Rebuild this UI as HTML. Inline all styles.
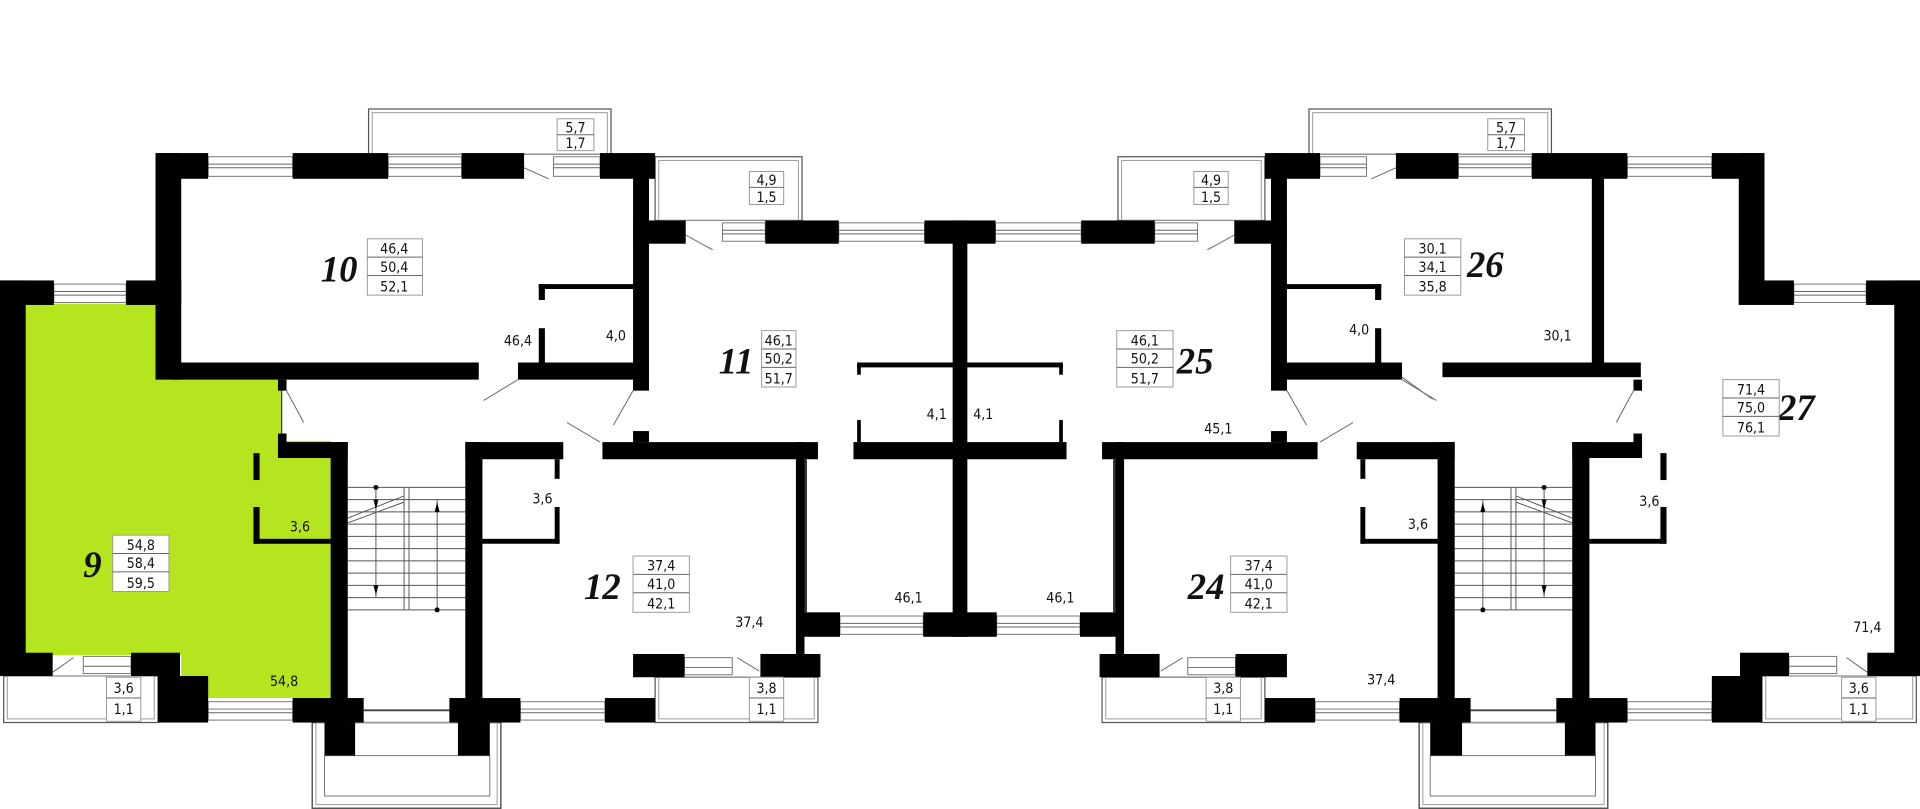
<!DOCTYPE html>
<html><head><meta charset="utf-8"><style>
html,body{margin:0;padding:0;background:#fff;}
svg{display:block;}
text{font-family:"Liberation Sans Narrow","DejaVu Sans Condensed","Liberation Sans",sans-serif;font-size:11.5px;fill:#111;}
.big{font-family:"Liberation Serif",serif;font-style:italic;font-weight:bold;font-size:30px;}
.win{fill:#fff;stroke:#777;stroke-width:0.8;}
.ln{stroke:#666;stroke-width:0.8;fill:none;}
.bx{fill:#fff;stroke:#999;stroke-width:0.8;}
</style></head><body>
<svg width="1920" height="809" viewBox="0 0 1568 660.6" preserveAspectRatio="none" xmlns="http://www.w3.org/2000/svg">
<rect width="1568" height="661" fill="#fff"/>
<polygon points="20,248 140,248 140,310 230,310 230,360 270,360 270,570 148,570 148,535 20,535" fill="#b5e51f"/>
<defs>
<g id="S">
<!-- balconies -->
<rect x="301" y="89" width="198" height="37" fill="none" stroke="#555" stroke-width="1"/>
<rect x="304" y="92" width="192" height="34" fill="none" stroke="#999" stroke-width="0.8"/>
<rect x="535" y="128" width="120" height="52" fill="none" stroke="#555" stroke-width="1"/>
<rect x="538" y="131" width="114" height="49" fill="none" stroke="#999" stroke-width="0.8"/>
<rect x="3" y="552" width="126" height="38" fill="none" stroke="#555" stroke-width="1"/>
<rect x="6" y="552" width="120" height="35" fill="none" stroke="#999" stroke-width="0.8"/>
<rect x="535" y="553" width="133" height="37" fill="none" stroke="#555" stroke-width="1"/>
<rect x="538" y="553" width="127" height="34" fill="none" stroke="#999" stroke-width="0.8"/>
<rect x="255" y="590" width="154" height="70" fill="none" stroke="#555" stroke-width="1.2"/>
<rect x="258" y="590" width="148" height="67" fill="none" stroke="#999" stroke-width="0.8"/>
<rect x="265" y="617" width="135" height="33" fill="none" stroke="#777" stroke-width="0.8"/>
<!-- windows -->
<rect class="win" x="170" y="128" width="69" height="16"/><line class="ln" x1="170" y1="134" x2="239" y2="134"/><line class="ln" x1="170" y1="137" x2="239" y2="137"/>
<rect class="win" x="317" y="128" width="60" height="16"/><line class="ln" x1="317" y1="134" x2="377" y2="134"/><line class="ln" x1="317" y1="137" x2="377" y2="137"/>
<rect class="win" x="452" y="128" width="38" height="16"/><line class="ln" x1="452" y1="134" x2="490" y2="134"/><line class="ln" x1="452" y1="137" x2="490" y2="137"/>
<rect class="win" x="44" y="232" width="59" height="15"/><line class="ln" x1="44" y1="238" x2="103" y2="238"/><line class="ln" x1="44" y1="241" x2="103" y2="241"/>
<rect class="win" x="590" y="182" width="35" height="15"/><line class="ln" x1="590" y1="188" x2="625" y2="188"/><line class="ln" x1="590" y1="191" x2="625" y2="191"/>
<rect class="win" x="685" y="182" width="70" height="15"/><line class="ln" x1="685" y1="188" x2="755" y2="188"/><line class="ln" x1="685" y1="191" x2="755" y2="191"/>
<rect class="win" x="686" y="503" width="68" height="15"/><line class="ln" x1="686" y1="509" x2="754" y2="509"/><line class="ln" x1="686" y1="512" x2="754" y2="512"/>
<rect class="win" x="68" y="536" width="39" height="14"/><line class="ln" x1="68" y1="544" x2="107" y2="544"/>
<rect class="win" x="170" y="573" width="69" height="15"/><line class="ln" x1="170" y1="579" x2="239" y2="579"/><line class="ln" x1="170" y1="582" x2="239" y2="582"/>
<rect class="win" x="425" y="573" width="69" height="15"/><line class="ln" x1="425" y1="579" x2="494" y2="579"/><line class="ln" x1="425" y1="582" x2="494" y2="582"/>
<rect class="win" x="559" y="537" width="39" height="14"/><line class="ln" x1="559" y1="545" x2="598" y2="545"/>
<line x1="297" y1="580" x2="367" y2="580" stroke="#444" stroke-width="1.5"/>
<!-- walls -->
<g fill="#000">
<rect x="127" y="125" width="43" height="21"/><rect x="239" y="125" width="78" height="21"/>
<rect x="377" y="125" width="51" height="21"/><rect x="490" y="125" width="45" height="21"/>
<rect x="127" y="125" width="21" height="123"/>
<rect x="0" y="229" width="44" height="20"/><rect x="103" y="229" width="45" height="20"/>
<rect x="0" y="229" width="21" height="323"/>
<rect x="517" y="125" width="13" height="194"/>
<rect x="517" y="180" width="43" height="19"/><rect x="625" y="180" width="60" height="19"/><rect x="755" y="180" width="29" height="19"/>
<rect x="778" y="180" width="6" height="340"/>
<rect x="440" y="232" width="77" height="4"/><rect x="440" y="232" width="5" height="13"/><rect x="440" y="268" width="5" height="28"/>
<rect x="423" y="296" width="107" height="14"/>
<rect x="227" y="310" width="7" height="9"/><rect x="227" y="354" width="7" height="8"/>
<rect x="227" y="361" width="57" height="13"/>
<rect x="207" y="370" width="5" height="22"/><rect x="207" y="414" width="5" height="30"/><rect x="207" y="440" width="63" height="4"/>
<rect x="270" y="361" width="14" height="229"/>
<rect x="380" y="361" width="14" height="229"/><rect x="380" y="361" width="80" height="14"/>
<rect x="453" y="375" width="4" height="16"/><rect x="453" y="414" width="4" height="30"/><rect x="394" y="440" width="63" height="4"/>
<rect x="492" y="361" width="176" height="14"/><rect x="517" y="352" width="13" height="9"/>
<rect x="650" y="361" width="7" height="173"/><rect x="657" y="500" width="29" height="20"/>
<rect x="697" y="361" width="87" height="14"/><rect x="700" y="343" width="3" height="18"/>
<rect x="700" y="296" width="84" height="4"/><rect x="700" y="296" width="3" height="10"/>
<rect x="754" y="500" width="30" height="20"/>
<rect x="0" y="533" width="43" height="19"/>
<rect x="107" y="533" width="40" height="19"/><rect x="129" y="552" width="41" height="38"/>
<rect x="239" y="570" width="58" height="20"/><rect x="367" y="570" width="58" height="20"/>
<rect x="494" y="570" width="41" height="20"/><rect x="517" y="534" width="42" height="19"/>
<rect x="621" y="534" width="49" height="19"/>
<rect x="265" y="590" width="25" height="27"/><rect x="374" y="590" width="26" height="27"/>
</g>
<rect x="657" y="375" width="2" height="125" fill="#333"/>
<!-- stairs -->
<g stroke="#555" stroke-width="0.8">
<line x1="284" y1="398" x2="380" y2="398"/><line x1="284" y1="408" x2="380" y2="408"/>
<line x1="284" y1="418" x2="380" y2="418"/><line x1="284" y1="428" x2="380" y2="428"/>
<line x1="284" y1="438" x2="380" y2="438"/><line x1="284" y1="448" x2="380" y2="448"/>
<line x1="284" y1="458" x2="380" y2="458"/><line x1="284" y1="468" x2="380" y2="468"/>
<line x1="284" y1="478" x2="380" y2="478"/><line x1="284" y1="488" x2="380" y2="488"/>
<line x1="284" y1="498" x2="380" y2="498"/>
<line x1="330" y1="398" x2="330" y2="498"/><line x1="334" y1="398" x2="334" y2="498"/>
<line x1="284" y1="423" x2="330" y2="405"/><line x1="284" y1="427" x2="330" y2="410"/>
<line x1="307" y1="398" x2="307" y2="488"/><line x1="357" y1="408" x2="357" y2="498"/>
</g>
<circle cx="307" cy="398" r="2" fill="#000"/><circle cx="357" cy="498" r="2" fill="#000"/>
<polygon points="305,408 309,408 307,416" fill="#000"/><polygon points="305,478 309,478 307,486" fill="#000"/>
<polygon points="355,418 359,418 357,410" fill="#000"/>
<!-- door swings -->
<g class="ln">
<line x1="428" y1="137" x2="448" y2="146"/><line x1="560" y1="192" x2="582" y2="204"/>
<line x1="423" y1="310" x2="395" y2="327"/><line x1="517" y1="319" x2="501" y2="347"/>
<line x1="463" y1="345" x2="490" y2="361"/><line x1="234" y1="319" x2="248" y2="345"/>
<line x1="43" y1="549" x2="60" y2="537"/><line x1="602" y1="537" x2="620" y2="548"/>
</g>
</g>
</defs>
<use href="#S"/>
<use href="#S" transform="translate(1568,0) scale(-1,1)"/>
<!-- left only -->
<rect x="127" y="248" width="21" height="62" fill="#000"/>
<rect x="140" y="296" width="251" height="14" fill="#000"/>
<line x1="230" y1="319" x2="230" y2="354" stroke="#333" stroke-width="1"/>
<!-- right only -->
<rect x="1178" y="296" width="162" height="12" fill="#000"/>
<rect x="1300" y="145" width="10" height="155" fill="#000"/>
<line class="ln" x1="1145" y1="308" x2="1170" y2="326"/>

<!-- labels -->
<g>
<rect class="bx" x="455" y="97" width="30" height="26"/><line class="ln" x1="455" y1="110" x2="485" y2="110"/>
<text x="470" y="108" text-anchor="middle">5,7</text><text x="470" y="121" text-anchor="middle">1,7</text>
<rect class="bx" x="1215" y="97" width="30" height="26"/><line class="ln" x1="1215" y1="110" x2="1245" y2="110"/>
<text x="1230" y="108" text-anchor="middle">5,7</text><text x="1230" y="121" text-anchor="middle">1,7</text>
<rect class="bx" x="612" y="140" width="28" height="27"/><line class="ln" x1="612" y1="153" x2="640" y2="153"/>
<text x="626" y="151" text-anchor="middle">4,9</text><text x="626" y="165" text-anchor="middle">1,5</text>
<rect class="bx" x="975" y="140" width="28" height="27"/><line class="ln" x1="975" y1="153" x2="1003" y2="153"/>
<text x="989" y="151" text-anchor="middle">4,9</text><text x="989" y="165" text-anchor="middle">1,5</text>
<rect class="bx" x="87" y="553" width="28" height="36"/><line class="ln" x1="87" y1="570" x2="115" y2="570"/>
<text x="101" y="566" text-anchor="middle">3,6</text><text x="101" y="583" text-anchor="middle">1,1</text>
<rect class="bx" x="612" y="553" width="28" height="36"/><line class="ln" x1="612" y1="570" x2="640" y2="570"/>
<text x="626" y="566" text-anchor="middle">3,8</text><text x="626" y="583" text-anchor="middle">1,1</text>
<rect class="bx" x="985" y="553" width="28" height="36"/><line class="ln" x1="985" y1="570" x2="1013" y2="570"/>
<text x="999" y="566" text-anchor="middle">3,8</text><text x="999" y="583" text-anchor="middle">1,1</text>
<rect class="bx" x="1504" y="553" width="28" height="36"/><line class="ln" x1="1504" y1="570" x2="1532" y2="570"/>
<text x="1518" y="566" text-anchor="middle">3,6</text><text x="1518" y="583" text-anchor="middle">1,1</text>

<text class="big" x="262" y="230">10</text>
<rect class="bx" x="300" y="195" width="45" height="46"/><line class="ln" x1="300" y1="210" x2="345" y2="210"/><line class="ln" x1="300" y1="225" x2="345" y2="225"/>
<text x="322" y="207" text-anchor="middle">46,4</text><text x="322" y="222" text-anchor="middle">50,4</text><text x="322" y="238" text-anchor="middle">52,1</text>

<text class="big" x="587" y="305">11</text>
<rect class="bx" x="622" y="270" width="28" height="46"/><line class="ln" x1="622" y1="285" x2="650" y2="285"/><line class="ln" x1="622" y1="300" x2="650" y2="300"/>
<text x="636" y="282" text-anchor="middle">46,1</text><text x="636" y="297" text-anchor="middle">50,2</text><text x="636" y="313" text-anchor="middle">51,7</text>

<text class="big" x="961" y="305">25</text>
<rect class="bx" x="912" y="270" width="46" height="46"/><line class="ln" x1="912" y1="285" x2="958" y2="285"/><line class="ln" x1="912" y1="300" x2="958" y2="300"/>
<text x="935" y="282" text-anchor="middle">46,1</text><text x="935" y="297" text-anchor="middle">50,2</text><text x="935" y="313" text-anchor="middle">51,7</text>

<text class="big" x="1198" y="226">26</text>
<rect class="bx" x="1147" y="195" width="46" height="46"/><line class="ln" x1="1147" y1="210" x2="1193" y2="210"/><line class="ln" x1="1147" y1="225" x2="1193" y2="225"/>
<text x="1170" y="207" text-anchor="middle">30,1</text><text x="1170" y="222" text-anchor="middle">34,1</text><text x="1170" y="238" text-anchor="middle">35,8</text>

<text class="big" x="1452" y="343">27</text>
<rect class="bx" x="1407" y="310" width="46" height="46"/><line class="ln" x1="1407" y1="325" x2="1453" y2="325"/><line class="ln" x1="1407" y1="340" x2="1453" y2="340"/>
<text x="1430" y="322" text-anchor="middle">71,4</text><text x="1430" y="337" text-anchor="middle">75,0</text><text x="1430" y="353" text-anchor="middle">76,1</text>

<text class="big" x="970" y="489">24</text>
<rect class="bx" x="1005" y="454" width="46" height="46"/><line class="ln" x1="1005" y1="469" x2="1051" y2="469"/><line class="ln" x1="1005" y1="484" x2="1051" y2="484"/>
<text x="1028" y="466" text-anchor="middle">37,4</text><text x="1028" y="481" text-anchor="middle">41,0</text><text x="1028" y="497" text-anchor="middle">42,1</text>

<text class="big" x="477" y="489">12</text>
<rect class="bx" x="517" y="454" width="46" height="46"/><line class="ln" x1="517" y1="469" x2="563" y2="469"/><line class="ln" x1="517" y1="484" x2="563" y2="484"/>
<text x="540" y="466" text-anchor="middle">37,4</text><text x="540" y="481" text-anchor="middle">41,0</text><text x="540" y="497" text-anchor="middle">42,1</text>

<text class="big" x="68" y="471">9</text>
<rect class="bx" x="92" y="437" width="46" height="46"/><line class="ln" x1="92" y1="452" x2="138" y2="452"/><line class="ln" x1="92" y1="467" x2="138" y2="467"/>
<text x="115" y="449" text-anchor="middle">54,8</text><text x="115" y="464" text-anchor="middle">58,4</text><text x="115" y="480" text-anchor="middle">59,5</text>

<text x="423" y="282" text-anchor="middle">46,4</text>
<text x="503" y="278" text-anchor="middle">4,0</text>
<text x="765" y="342" text-anchor="middle">4,1</text>
<text x="803" y="342" text-anchor="middle">4,1</text>
<text x="995" y="354" text-anchor="middle">45,1</text>
<text x="1110" y="273" text-anchor="middle">4,0</text>
<text x="1272" y="278" text-anchor="middle">30,1</text>
<text x="1347" y="413" text-anchor="middle">3,6</text>
<text x="1158" y="432" text-anchor="middle">3,6</text>
<text x="443" y="411" text-anchor="middle">3,6</text>
<text x="245" y="434" text-anchor="middle">3,6</text>
<text x="742" y="492" text-anchor="middle">46,1</text>
<text x="866" y="492" text-anchor="middle">46,1</text>
<text x="612" y="512" text-anchor="middle">37,4</text>
<text x="1128" y="559" text-anchor="middle">37,4</text>
<text x="1525" y="516" text-anchor="middle">71,4</text>
<text x="232" y="560" text-anchor="middle">54,8</text>
</g>
</svg>
</body></html>
